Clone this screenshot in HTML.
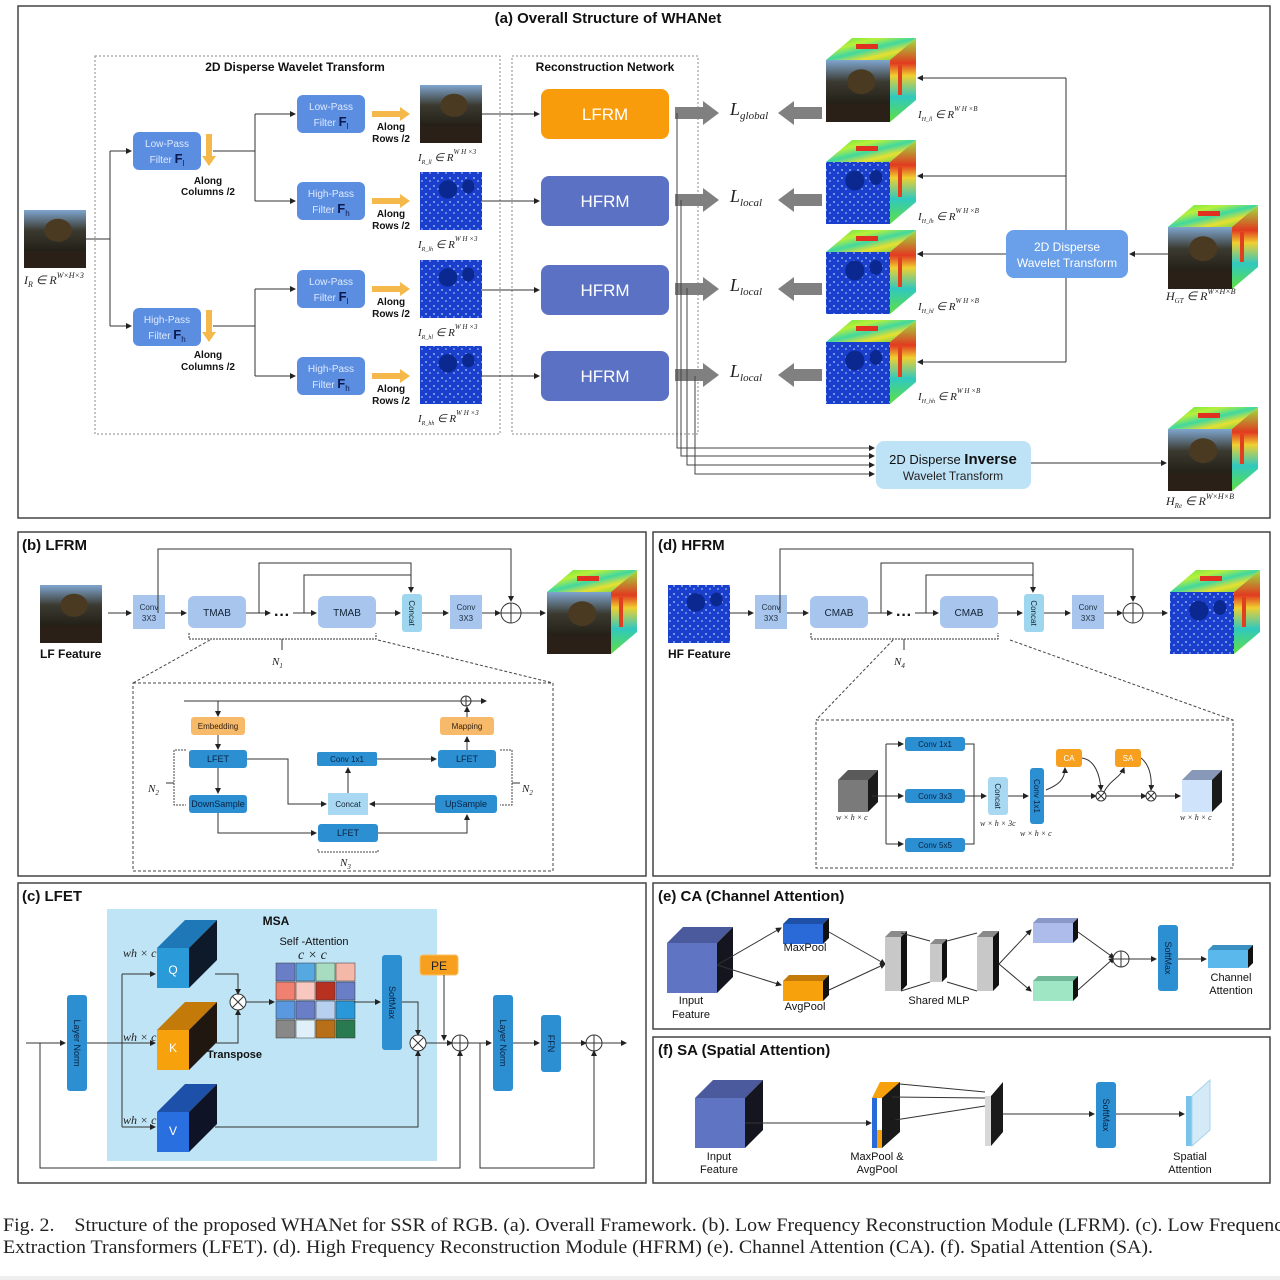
<!DOCTYPE html>
<html><head><meta charset="utf-8"><style>
html,body{margin:0;padding:0;background:#fff;width:1280px;height:1280px;overflow:hidden}
svg{display:block}
</style></head><body>
<svg id="s" xmlns="http://www.w3.org/2000/svg" width="1280" height="1280" viewBox="0 0 1280 1280" font-family="Liberation Sans, sans-serif">
<defs>
<marker id="a" markerWidth="6" markerHeight="6" refX="5" refY="3" orient="auto" markerUnits="userSpaceOnUse"><path d="M0,0 L6,3 L0,6 z" fill="#222"/></marker>
<linearGradient id="photo" x1="0" y1="0" x2="0" y2="1"><stop offset="0" stop-color="#7fa6cf"/><stop offset="0.35" stop-color="#3b3a30"/><stop offset="0.7" stop-color="#242018"/><stop offset="1" stop-color="#5a4a3a"/></linearGradient>
<pattern id="hfp" width="8" height="8" patternUnits="userSpaceOnUse"><rect width="8" height="8" fill="#1a3fcf"/><circle cx="2" cy="2" r="1" fill="#8fb0f0"/><circle cx="6" cy="5" r="0.8" fill="#c8d4f4"/></pattern>
<linearGradient id="hs" x1="0" y1="0" x2="1" y2="1"><stop offset="0" stop-color="#4fe04a"/><stop offset="0.3" stop-color="#b8f03a"/><stop offset="0.5" stop-color="#40d8a0"/><stop offset="0.7" stop-color="#e8e030"/><stop offset="1" stop-color="#3cd050"/></linearGradient>
<linearGradient id="hs2" x1="0" y1="0" x2="0" y2="1"><stop offset="0" stop-color="#9ae640"/><stop offset="0.3" stop-color="#e23a20"/><stop offset="0.45" stop-color="#f0d030"/><stop offset="0.7" stop-color="#30c8c0"/><stop offset="1" stop-color="#60e040"/></linearGradient>
</defs>
</svg>
<script>
const s=document.getElementById('s');let h='';
function R(x,y,w,hh,f,rx,st,ex){h+=`<rect x="${x}" y="${y}" width="${w}" height="${hh}" fill="${f}" rx="${rx||0}" ${st?`stroke="${st}"`:''} ${ex||''}/>`;}
function T(x,y,t,sz,an,wt,f,ex){h+=`<text x="${x}" y="${y}" font-size="${sz}" text-anchor="${an||'middle'}" font-weight="${wt||'normal'}" fill="${f||'#111'}" ${ex||''}>${t}</text>`;}
function L(p,ar,st,sw,ex){h+=`<polyline points="${p}" fill="none" stroke="${st||'#333'}" stroke-width="${sw||1}" ${ar?'marker-end="url(#a)"':''} ${ex||''}/>`;}
function P(p,f,ex){h+=`<polygon points="${p}" fill="${f}" ${ex||''}/>`;}
function C(x,y,r,t){h+=`<circle cx="${x}" cy="${y}" r="${r}" fill="#fff" stroke="#333"/>`;if(t=='+'){L(`${x-r},${y} ${x+r},${y}`);L(`${x},${y-r} ${x},${y+r}`);}else{let d=r*0.7;L(`${x-d},${y-d} ${x+d},${y+d}`);L(`${x-d},${y+d} ${x+d},${y-d}`);}}
function photo(x,y,w,hh){R(x,y,w,hh,'url(#photo)');h+=`<ellipse cx="${x+w*0.55}" cy="${y+hh*0.35}" rx="${w*0.22}" ry="${hh*0.2}" fill="#4a3a22"/>`;R(x,y+hh*0.72,w,hh*0.28,'#2a2018');}
function hf(x,y,w,hh){R(x,y,w,hh,'url(#hfp)');h+=`<ellipse cx="${x+w*0.45}" cy="${y+hh*0.3}" rx="${w*0.15}" ry="${hh*0.16}" fill="#0a2890"/><ellipse cx="${x+w*0.78}" cy="${y+hh*0.25}" rx="${w*0.1}" ry="${hh*0.12}" fill="#0a2890"/>`;}
function hcube(x,y,kind){
 let d=26,w=64,hh=62,fy=y+22;
 P(`${x},${fy} ${x+d},${y} ${x+d+w},${y} ${x+w},${fy}`,'url(#hs)');
 P(`${x+w},${fy} ${x+w+d},${y} ${x+w+d},${y+hh} ${x+w},${fy+hh}`,'url(#hs2)');
 R(x+30,y+6,22,5,'#e03020');R(x+w+8,fy+5,4,30,'#e04020');
 if(kind=='p')photo(x,fy,w,hh);else hf(x,fy,w,hh);}
function box3d(x,y,w,hh,d,fr,tp,sd){P(`${x},${y} ${x+d},${y-d} ${x+w+d},${y-d} ${x+w},${y}`,tp);P(`${x+w},${y} ${x+w+d},${y-d} ${x+w+d},${y+hh-d} ${x+w},${y+hh}`,sd);R(x,y,w,hh,fr);}
function vbox(x,y,w,hh,f,t,tc,fs){R(x,y,w,hh,f,3);T(0,0,t,fs||9,'middle','normal',tc||'#123',`transform="translate(${x+w/2-3},${y+hh/2}) rotate(90)"`);}
function math(x,y,t,sz){T(x,y,t,sz||12,'start','normal','#222','font-family="Liberation Serif, serif" font-style="italic"');}

R(18,6,1252,512,'none',0,'#444','stroke-width="1.5"');
T(608,23,'(a) Overall Structure of WHANet',15,'middle','bold');
R(95,56,405,378,'none',0,'#888','stroke-dasharray="2,2"');
T(295,71,'2D Disperse Wavelet Transform',12,'middle','bold');
R(512,56,186,378,'none',0,'#888','stroke-dasharray="2,2"');
T(605,71,'Reconstruction Network',12,'middle','bold');
photo(24,210,62,58);
math(24,284,'I<tspan font-size="8" dy="3">R</tspan><tspan dy="-3"> ∈ R</tspan><tspan font-size="8" dy="-6">W×H×3</tspan>',12);
L('86,239 110,239');L('110,151 110,326');L('110,151 131,151',1);L('110,326 131,326',1);
function filt(x,y,a,b){R(x,y,68,38,'#5b8ee0',6);T(x+34,y+15,a,10,'middle','normal','#dfe9ff');T(x+34,y+31,'Filter <tspan font-size="13" font-weight="bold" fill="#0a1a50">F</tspan><tspan font-size="8" fill="#0a1a50" dy="3">'+b+'</tspan>',10,'middle','normal','#dfe9ff');}
filt(133,132,'Low-Pass','l');filt(133,308,'High-Pass','h');
function oarrV(x,y){R(x-3,y,6,24,'#f5b84a');P(`${x-7},${y+22} ${x+7},${y+22} ${x},${y+32}`,'#f5b84a');}
function oarrH(x,y){R(x,y-3,30,6,'#f5b84a');P(`${x+28},${y-7} ${x+28},${y+7} ${x+38},${y}`,'#f5b84a');}
oarrV(209,134);oarrV(209,310);
T(208,184,'Along',10,'middle','bold');T(208,195,'Columns /2',10,'middle','bold');
T(208,358,'Along',10,'middle','bold');T(208,370,'Columns /2',10,'middle','bold');
L('213,151 255,151');L('255,114 255,201');L('255,114 295,114',1);L('255,201 295,201',1);
L('213,326 255,326');L('255,289 255,376');L('255,289 295,289',1);L('255,376 295,376',1);
const rows=[[95,'Low-Pass','l',true],[182,'High-Pass','h',false],[270,'Low-Pass','l',false],[357,'High-Pass','h',false]];
const labs=['R_ll','R_lh','R_hl','R_hh'];
rows.forEach((r,i)=>{let y=r[0];filt(297,y,r[1],r[2]);oarrH(372,y+19);T(391,y+35,'Along',10,'middle','bold');T(391,y+47,'Rows /2',10,'middle','bold');
 let iy=[85,172,260,346][i];if(r[3])photo(420,iy,62,58);else hf(420,iy,62,58);
 math(418,iy+76,'I<tspan font-size="6" dy="3">'+labs[i]+'</tspan><tspan dy="-3"> ∈ R</tspan><tspan font-size="7" dy="-7">W H ×3</tspan>',11);
});
const ry=[89,176,265,351];
ry.forEach((y,i)=>{L(`482,${y+25} 539,${y+25}`,1);
 if(i==0){R(541,y,128,50,'#f99c0c',8);T(605,y+31,'LFRM',17,'middle','normal','#fff');}
 else{R(541,y,128,50,'#5b72c4',8);T(605,y+31,'HFRM',17,'middle','normal','#fff');}
 let ay=y+24;R(675,ay-6,30,12,'#808080');P(`703,${ay-12} 703,${ay+12} 719,${ay}`,'#808080');
 math(730,ay+2,'L<tspan font-size="11" dy="4">'+(i==0?'global':'local')+'</tspan>',18);
 P(`778,${ay} 794,${ay-12} 794,${ay+12}`,'#808080');R(792,ay-6,30,12,'#808080');
});
[[677,113,448],[681,200,456],[687,288,465],[695,376,474]].forEach(v=>{L(`${v[0]},${v[1]} ${v[0]},${v[2]} 874,${v[2]}`,1,'#444');});
const cy=[38,140,230,320];
const cl=['H_ll','H_lh','H_hl','H_hh'];
cy.forEach((y,i)=>{hcube(826,y,i==0?'p':'h');math(918,y+80,'I<tspan font-size="6" dy="3">'+cl[i]+'</tspan><tspan dy="-3"> ∈ R</tspan><tspan font-size="7" dy="-7">W H ×B</tspan>',11);});
L('1066,78 1066,230');L('1066,278 1066,362');
[78,176,254,362].forEach(y=>L(`1066,${y} 918,${y}`,1));
L('1006,254 918,254',1);
R(1006,230,122,48,'#6aa0ea',8);T(1067,251,'2D Disperse',12,'middle','normal','#fff');T(1067,267,'Wavelet Transform',12,'middle','normal','#fff');
hcube(1168,205,'p');L('1168,254 1130,254',1);
math(1166,300,'H<tspan font-size="7" dy="3">GT</tspan><tspan dy="-3"> ∈ R</tspan><tspan font-size="8" dy="-6">W×H×B</tspan>',12);
R(876,441,155,48,'#bfe3f6',8);T(953,464,'2D Disperse <tspan font-weight="bold" font-size="15">Inverse</tspan>',13,'middle','normal','#111');T(953,480,'Wavelet Transform',12,'middle','normal','#222');
L('1031,463 1166,463',1);hcube(1168,407,'p');
math(1166,505,'H<tspan font-size="7" dy="3">Re</tspan><tspan dy="-3"> ∈ R</tspan><tspan font-size="8" dy="-6">W×H×B</tspan>',12);

R(18,532,628,344,'none',0,'#444','stroke-width="1.5"');
T(22,550,'(b) LFRM',15,'start','bold');
function topchain(ox,lab,kind,name){
 if(kind=='p'){photo(ox+22,585,62,58);T(ox+22,658,lab,12,'start','bold');}
 else{hf(ox+28,585,62,58);T(ox+28,658,lab,12,'start','bold');}
 L(`${ox+90},613 ${ox+113},613`,1);
 R(ox+115,595,32,34,'#a8c5ee');T(ox+131,610,'Conv',8,'middle','normal','#234');T(ox+131,621,'3X3',8,'middle','normal','#234');
 L(`${ox+147},613 ${ox+168},613`,1);
 R(ox+170,596,58,32,'#a8c5ee',6);T(ox+199,616,name,10,'middle','normal','#123');
 L(`${ox+228},613 ${ox+252},613`,1);T(ox+264,620,'···',16,'middle','bold');L(`${ox+275},613 ${ox+298},613`,1);
 R(ox+300,596,58,32,'#a8c5ee',6);T(ox+329,616,name,10,'middle','normal','#123');
 L(`${ox+358},613 ${ox+382},613`,1);
 vbox(ox+384,594,20,38,'#9fd6ef','Concat','#123',8);
 L(`${ox+404},613 ${ox+430},613`,1);
 R(ox+432,595,32,34,'#a8c5ee');T(ox+448,610,'Conv',8,'middle','normal','#234');T(ox+448,621,'3X3',8,'middle','normal','#234');
 L(`${ox+464},613 ${ox+482},613`,1);C(ox+493,613,10,'+');L(`${ox+503},613 ${ox+527},613`,1);
 L(`${ox+140},613 ${ox+140},549 ${ox+493},549 ${ox+493},601`,1);
 L(`${ox+241},613 ${ox+241},563 ${ox+393},563 ${ox+393},592`,1);
 L(`${ox+286},613 ${ox+286},575 ${ox+393},575`);
 L(`${ox+171},633 ${ox+171},639 ${ox+358},639 ${ox+358},633`,0,'#333',1,'stroke-dasharray="2,1"');
 L(`${ox+264},639 ${ox+264},650`);
 math(ox+254,665,'N<tspan font-size="7" dy="3">'+(kind=='p'?'1':'4')+'</tspan>',11);
}
topchain(18,'LF Feature','p','TMAB');
hcube(547,570,'p');
L('210,640 133,683',0,'#444',1,'stroke-dasharray="3,2"');L('378,640 553,683',0,'#444',1,'stroke-dasharray="3,2"');
R(133,683,420,188,'none',0,'#444','stroke-dasharray="3,2"');
L('184,701 486,701',1);C(466,701,5,'+');L('218,701 218,716',1);
R(191,717,54,18,'#f7b96a',3);T(218,729,'Embedding',8,'middle','normal','#321');
R(440,717,54,18,'#f7b96a',3);T(467,729,'Mapping',8,'middle','normal','#321');
L('467,717 467,707',1);L('218,735 218,749',1);
function bb(x,y,w,t,f){R(x,y,w,18,f||'#2b8fd2',3);T(x+w/2,y+12,t,f?8:9,'middle','normal','#0a2240');}
bb(189,750,58,'LFET');bb(438,750,58,'LFET');R(317,752,60,14,'#2b8fd2',2);T(347,762,'Conv 1x1',8,'middle','normal','#0a2240');
bb(189,795,58,'DownSample');R(328,793,40,22,'#a9d8f2');T(348,807,'Concat',8,'middle','normal','#123');bb(435,795,62,'UpSample');
bb(318,824,60,'LFET');
L('218,768 218,793',1);L('247,759 288,759 288,804 326,804',1);L('435,804 370,804',1);L('348,793 348,768',1);L('377,759 436,759',1);L('467,750 467,737',1);
L('218,813 218,833 316,833',1);L('378,833 467,833 467,815',1);
L('186,750 174,750 174,805 186,805',0,'#444',1,'stroke-dasharray="2,1"');L('500,750 512,750 512,805 500,805',0,'#444',1,'stroke-dasharray="2,1"');
L('174,783 166,783');L('512,783 520,783');
math(148,792,'N<tspan font-size="7" dy="3">2</tspan>',11);math(522,792,'N<tspan font-size="7" dy="3">2</tspan>',11);
L('318,849 318,852 378,852 378,849',0,'#444',1,'stroke-dasharray="2,1"');math(340,866,'N<tspan font-size="7" dy="3">3</tspan>',11);

R(653,532,617,344,'none',0,'#444','stroke-width="1.5"');
T(658,550,'(d) HFRM',15,'start','bold');
topchain(640,'HF Feature','h','CMAB');
hcube(1170,570,'h');
L('893,640 816,720',0,'#444',1,'stroke-dasharray="3,2"');L('1010,640 1233,720',0,'#444',1,'stroke-dasharray="3,2"');
R(816,720,417,148,'none',0,'#444','stroke-dasharray="3,2"');
box3d(838,780,30,32,10,'#7a7a7a','#5a5a5a','#1a1a1a');math(836,820,'w × h × c',8);
L('872,796 903,796',1);L('886,744 886,844');L('886,744 903,744',1);L('886,844 903,844',1);
R(905,737,60,14,'#2b8fd2',3);T(935,747,'Conv 1x1',8,'middle','normal','#0a2240');
R(905,789,60,14,'#2b8fd2',3);T(935,799,'Conv 3x3',8,'middle','normal','#0a2240');
R(905,838,60,14,'#2b8fd2',3);T(935,848,'Conv 5x5',8,'middle','normal','#0a2240');
L('965,744 974,744 974,844 965,844');L('965,796 986,796',1);
vbox(988,777,20,38,'#a9d8f2','Concat','#123',8);math(980,826,'w × h × 3c',8);
L('1008,796 1028,796',1);vbox(1030,768,14,56,'#2b8fd2','Conv 1x1','#0a2240',8);math(1020,836,'w × h × c',8);
L('1044,796 1096,796',1);C(1101,796,5,'x');L('1106,796 1146,796',1);C(1151,796,5,'x');L('1156,796 1180,796',1);
R(1056,749,26,18,'#f7a020',3);T(1069,761,'CA',8,'middle','normal','#fff');
R(1115,749,26,18,'#f7a020',3);T(1128,761,'SA',8,'middle','normal','#fff');
h+='<path d="M1046,790 C1058,785 1065,780 1065,768" fill="none" stroke="#333" marker-end="url(#a)"/><path d="M1082,758 C1095,760 1100,775 1101,790" fill="none" stroke="#333" marker-end="url(#a)"/><path d="M1104,792 C1110,780 1120,778 1124,768" fill="none" stroke="#333" marker-end="url(#a)"/><path d="M1141,758 C1150,765 1152,778 1151,790" fill="none" stroke="#333" marker-end="url(#a)"/>';
box3d(1182,780,30,32,10,'#cfe3fb','#8898b8','#1a1a1a');math(1180,820,'w × h × c',8);

R(18,883,628,300,'none',0,'#444','stroke-width="1.5"');
T(22,901,'(c) LFET',15,'start','bold');
R(107,909,330,252,'#bfe4f6');
T(276,925,'MSA',12,'middle','bold');
L('26,1043 65,1043',1);vbox(67,995,20,96,'#2b8fd2','Layer Norm','#0a2240',9);
L('87,1043 155,1043',1);L('122,974 122,1127');L('122,974 155,974',1);L('122,1127 155,1127',1);
box3d(157,948,32,40,28,'#2b9ad8','#1e78b8','#0e1a2a');T(173,974,'Q',12,'middle','normal','#fff');
box3d(157,1030,32,40,28,'#f7a20c','#c47a08','#201810');T(173,1052,'K',12,'middle','normal','#fff');
box3d(157,1112,32,40,28,'#2a6fe0','#1d50a8','#0e1426');T(173,1135,'V',12,'middle','normal','#fff');
math(123,957,'wh × c',12);math(123,1041,'wh × c',12);math(123,1124,'wh × c',12);
T(207,1058,'Transpose',11,'start','bold');
L('215,974 238,974 238,994',1);L('215,1043 238,1043 238,1010',1);C(238,1002,8,'x');L('246,1002 274,1002',1);
T(314,945,'Self -Attention',11,'middle');math(298,959,'c × c',14);
const gc=['#6a7ec8','#56a8e0','#a8dcc0','#f4b8a8','#f08070','#f8c8c0','#b83020','#6a7ec8','#5a98e0','#6a7ec8','#b8d0f0','#2898d8','#888','#e0f0fa','#b87018','#2a7a50'];
gc.forEach((c,i)=>R(276+(i%4)*20,963+Math.floor(i/4)*19,19,18,c,0,'#333','stroke-width="0.5"'));
L('354,1002 380,1002',1);vbox(382,955,20,95,'#2b8fd2','SoftMax','#0a2240',9);
L('402,1002 418,1002 418,1035',1);C(418,1043,8,'x');L('215,1127 418,1127 418,1051',1);
R(420,955,38,20,'#f7a020',3,'#f9c060');T(439,970,'PE',12,'middle','normal','#222');
L('444,975 444,1040',1);L('426,1043 452,1043',1);C(460,1043,8,'+');L('468,1043 491,1043',1);
L('40,1043 40,1168 460,1168 460,1051',1);
vbox(493,995,20,96,'#2b8fd2','Layer Norm','#0a2240',9);L('513,1043 539,1043',1);
vbox(541,1015,20,57,'#2b8fd2','FFN','#0a2240',9);L('561,1043 586,1043',1);C(594,1043,8,'+');L('602,1043 626,1043',1);
L('480,1043 480,1168 594,1168 594,1051',1);

R(653,883,617,146,'none',0,'#444','stroke-width="1.5"');
T(658,901,'(e) CA (Channel Attention)',15,'start','bold');
box3d(667,943,50,50,16,'#5f75c4','#4a5a9c','#15151f');T(691,1004,'Input',11);T(691,1018,'Feature',11);
L('717,965 781,928',1);L('717,965 781,985',1);
box3d(783,924,40,20,6,'#2a6ad8','#1e50a8','#111');T(805,951,'MaxPool',11);
box3d(783,981,40,20,6,'#f7a20c','#c47a08','#111');T(805,1010,'AvgPool',11);
L('829,932 885,964',1);L('829,990 885,964',1);
box3d(885,937,16,54,6,'#c8c8c8','#8a8a8a','#111');box3d(930,944,12,38,5,'#c8c8c8','#8a8a8a','#111');box3d(977,937,16,54,6,'#c8c8c8','#8a8a8a','#111');
L('901,933 930,941');L('901,991 930,982');L('947,941 977,933');L('947,982 977,991');
T(939,1004,'Shared MLP',11);
L('999,964 1031,930',1);L('999,964 1031,991',1);
box3d(1033,923,40,20,5,'#aebcec','#8898c8','#111');box3d(1033,981,40,20,5,'#9ee6c4','#70b898','#111');
L('1078,932 1114,958',1);L('1078,990 1114,958',1);C(1121,959,8,'+');L('1129,959 1156,959',1);
vbox(1158,925,20,66,'#2b8fd2','SoftMax','#0a2240',9);L('1178,959 1206,959',1);
box3d(1208,950,40,18,5,'#5ab8ec','#3a90c0','#111');T(1231,981,'Channel',11);T(1231,994,'Attention',11);

R(653,1037,617,146,'none',0,'#444','stroke-width="1.5"');
T(658,1055,'(f) SA (Spatial Attention)',15,'start','bold');
box3d(695,1098,50,50,18,'#5f75c4','#4a5a9c','#15151f');T(719,1160,'Input',11);T(719,1173,'Feature',11);
L('745,1123 871,1123',1);
P('872,1098 880,1082 900,1082 892,1098','#f7a20c');R(872,1098,6,50,'#2a6ad8');R(877,1098,5,32,'#fff');R(877,1130,5,18,'#f7a20c');P('882,1098 900,1082 900,1132 882,1148','#1a1a1a');
T(877,1160,'MaxPool &amp;',11);T(877,1173,'AvgPool',11);
L('900,1084 985,1092');L('892,1097 985,1098');L('895,1120 985,1106');
R(985,1096,6,50,'#d8d8d8');P('991,1096 1003,1082 1003,1132 991,1146','#1a1a1a');
L('1003,1114 1094,1114',1);vbox(1096,1082,20,66,'#2b8fd2','SoftMax','#0a2240',9);L('1116,1114 1184,1114',1);
R(1186,1096,6,50,'#7ac4ec');P('1192,1096 1210,1080 1210,1130 1192,1146','#d4ebf7','stroke="#a8d4ec"');
T(1190,1160,'Spatial',11);T(1190,1173,'Attention',11);

h+='<text x="3" y="1231" font-family="Liberation Serif, serif" font-size="19" fill="#222" textLength="1290" lengthAdjust="spacingAndGlyphs">Fig. 2.&#160;&#160;&#160; Structure of the proposed WHANet for SSR of RGB. (a). Overall Framework. (b). Low Frequency Reconstruction Module (LFRM). (c). Low Frequency</text>';
h+='<text x="3" y="1253" font-family="Liberation Serif, serif" font-size="19" fill="#222" textLength="1150" lengthAdjust="spacingAndGlyphs">Extraction Transformers (LFET). (d). High Frequency Reconstruction Module (HFRM) (e). Channel Attention (CA). (f). Spatial Attention (SA).</text>';
R(0,1276,1280,4,'#eee');
s.insertAdjacentHTML('beforeend',h);
</script>
</body></html>
